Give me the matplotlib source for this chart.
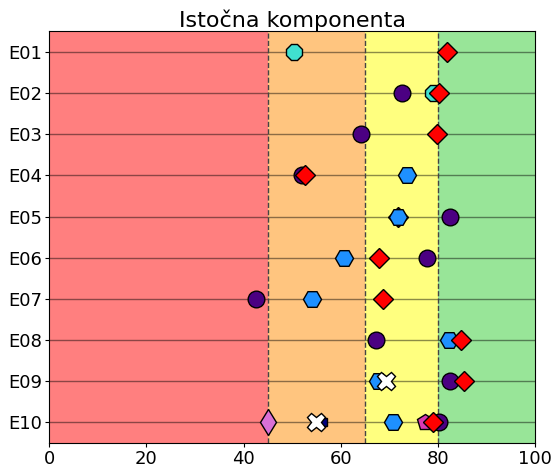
import numpy as np
import matplotlib.pyplot as plt

# Row labels (top to bottom)
labels = ['E01', 'E02', 'E03', 'E04', 'E05', 'E06', 'E07', 'E08', 'E09', 'E10']

# Score bands
band_edges = [0, 45, 65, 80, 100]
band_colors = ['red', 'darkorange', 'yellow', 'limegreen']

# Series values per row (None = no point)
dark_d = [None, None, None, None, 71.7, None, None, None, None, None]
indigo_c = [None, 72.6, 64.1, 52.0, 82.5, 77.8, 42.5, 67.2, 82.4, 80.3]
turq_o = [50.4, 79.0, None, None, None, None, None, None, None, None]
pink_p = [None, None, None, None, None, None, None, None, None, 77.4]
orchid_d = [None, None, None, None, None, None, None, None, None, 45.1]
navy_s = [None, None, None, None, None, None, None, None, None, 56.4]
blue_h = [None, None, None, 73.6, 71.7, 60.7, 54.0, 82.2, 67.6, 70.7]
red_D = [81.8, 80.3, 79.8, 52.7, None, 67.8, 68.8, 84.8, 85.4, 78.9]
white_x = [None, None, None, None, None, None, None, None, 69.3, 54.9]

series = [
    (dark_d, 'D', 'darkred', 10),
    (indigo_c, 'o', 'indigo', 12),
    (turq_o, '8', 'turquoise', 12),
    (pink_p, 'p', '#d93ab3', 12),
    (orchid_d, 'd', 'orchid', 13),
    (navy_s, 's', 'navy', 6),
    (blue_h, 'H', 'dodgerblue', 13),
    (red_D, 'D', 'red', 10),
    (white_x, 'X', 'white', 13),
]

fig = plt.figure(figsize=(5.58, 4.69), dpi=100)
ax = fig.add_axes([0.088, 0.056, 0.871, 0.877])

for i in range(len(band_colors)):
    ax.axvspan(band_edges[i], band_edges[i + 1], color=band_colors[i], alpha=0.5, lw=0)
for x in band_edges[1:-1]:
    ax.axvline(x, color='#444444', ls='--', lw=1)

ypos = np.arange(len(labels))
for y in ypos:
    ax.axhline(y, color='black', alpha=0.45, lw=1, zorder=1)

for vals, mk, col, ms in series:
    xs = [v for v in vals if v is not None]
    ys = [y for v, y in zip(vals, ypos) if v is not None]
    ax.plot(xs, ys, ls='none', marker=mk, color=col, markersize=ms,
            markeredgecolor='black', markeredgewidth=1, zorder=3)

ax.set_xlim(0, 100)
ax.set_ylim(len(labels) - 0.5, -0.5)
ax.set_yticks(ypos)
ax.set_yticklabels(labels)
ax.set_xticks([0, 20, 40, 60, 80, 100])
ax.tick_params(labelsize=13, length=3, pad=2)
ax.set_title('Istočna komponenta', fontsize=16, pad=3)

fig.savefig('out.png', dpi=100)
